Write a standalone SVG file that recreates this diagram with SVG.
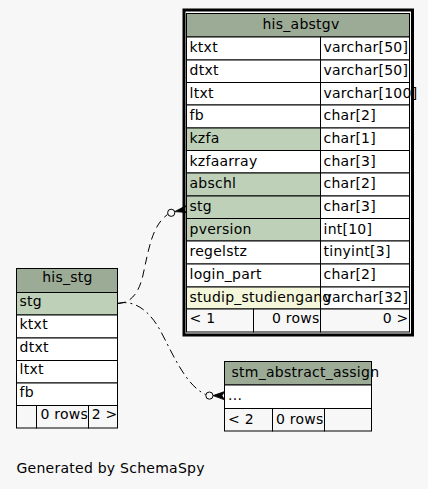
<svg xmlns="http://www.w3.org/2000/svg" width="428" height="489" viewBox="0 0 428 489">
<style>
.t{font-family:"DejaVu Sans","Bitstream Vera Sans",Verdana,sans-serif;font-size:14px;letter-spacing:0.25px;fill:#000}
.c{stroke:#000;stroke-width:1}
.w{fill:#ffffff}
.h{fill:#9bab96}
.k{fill:#bed1b8}
.y{fill:#f4f7da}
.f{fill:#f7f7f7}
.e{fill:none;stroke:#000;stroke-width:1}
.ar{fill:#000;stroke:#000;stroke-width:0.8}
.od{fill:#f7f7f7;stroke:#000;stroke-width:1}
</style>
<rect x="0" y="0" width="428" height="489" fill="#f7f7f7"/>

<g id="connectors">
<path class="e" stroke-dasharray="8,5" d="M117.5,303.5 C132,303 139,292 143,275 C149,248 152,226 167.6,214.4"/>
<circle class="od" cx="171.2" cy="212.8" r="3.6"/>
<polygon class="ar" points="174.8,211.6 185.8,205.8 183.4,209.8 186.5,212.6"/>
<path class="e" stroke-dasharray="9,4,2,4" d="M117.5,303.5 C135,299 150,312 160,330 C172,352 185,385 205.7,394.6"/>
<circle class="od" cx="209.4" cy="395.6" r="3.6"/>
<polygon class="ar" points="213,395.6 224.5,391.6 222,395.6 224.5,399.8"/>
</g>

<g id="his_abstgv">
<rect x="186" y="12" width="224" height="321" fill="#ffffff"/>
<rect class="c h" x="186.5" y="13.5" width="223" height="23.5"/>
<rect class="c w" x="186.5" y="37" width="134" height="23"/><rect class="c w" x="320.5" y="37" width="89" height="23"/>
<rect class="c w" x="186.5" y="60" width="134" height="22.5"/><rect class="c w" x="320.5" y="60" width="89" height="22.5"/>
<rect class="c w" x="186.5" y="82.5" width="134" height="22.5"/><rect class="c w" x="320.5" y="82.5" width="89" height="22.5"/>
<rect class="c w" x="186.5" y="105" width="134" height="23"/><rect class="c w" x="320.5" y="105" width="89" height="23"/>
<rect class="c k" x="186.5" y="128" width="134" height="22.5"/><rect class="c w" x="320.5" y="128" width="89" height="22.5"/>
<rect class="c w" x="186.5" y="150.5" width="134" height="22.5"/><rect class="c w" x="320.5" y="150.5" width="89" height="22.5"/>
<rect class="c k" x="186.5" y="173" width="134" height="23"/><rect class="c w" x="320.5" y="173" width="89" height="23"/>
<rect class="c k" x="186.5" y="196" width="134" height="22.5"/><rect class="c w" x="320.5" y="196" width="89" height="22.5"/>
<rect class="c k" x="186.5" y="218.5" width="134" height="22.5"/><rect class="c w" x="320.5" y="218.5" width="89" height="22.5"/>
<rect class="c w" x="186.5" y="241" width="134" height="23"/><rect class="c w" x="320.5" y="241" width="89" height="23"/>
<rect class="c w" x="186.5" y="264" width="134" height="23"/><rect class="c w" x="320.5" y="264" width="89" height="23"/>
<rect class="c y" x="186.5" y="287" width="134" height="22"/><rect class="c w" x="320.5" y="287" width="89" height="22"/>
<rect class="c f" x="186.5" y="309" width="67" height="23"/><rect class="c f" x="253.5" y="309" width="67" height="23"/><rect class="c f" x="320.5" y="309" width="89" height="23"/>
<text class="t" x="301" y="28.5" text-anchor="middle">his_abstgv</text>
<text class="t" x="189.5" y="52">ktxt</text><text class="t" x="323.5" y="52">varchar[50]</text>
<text class="t" x="189.5" y="75">dtxt</text><text class="t" x="323.5" y="75">varchar[50]</text>
<text class="t" x="189.5" y="97.5">ltxt</text><text class="t" x="323.5" y="97.5">varchar[100]</text>
<text class="t" x="189.5" y="120">fb</text><text class="t" x="323.5" y="120">char[2]</text>
<text class="t" x="189.5" y="143">kzfa</text><text class="t" x="323.5" y="143">char[1]</text>
<text class="t" x="189.5" y="165.5">kzfaarray</text><text class="t" x="323.5" y="165.5">char[3]</text>
<text class="t" x="189.5" y="188">abschl</text><text class="t" x="323.5" y="188">char[2]</text>
<text class="t" x="189.5" y="211">stg</text><text class="t" x="323.5" y="211">char[3]</text>
<text class="t" x="189.5" y="233.5">pversion</text><text class="t" x="323.5" y="233.5">int[10]</text>
<text class="t" x="189.5" y="256">regelstz</text><text class="t" x="323.5" y="256">tinyint[3]</text>
<text class="t" x="189.5" y="279">login_part</text><text class="t" x="323.5" y="279">char[2]</text>
<text class="t" x="189.5" y="302">studip_studiengang</text><text class="t" x="323.5" y="302">varchar[32]</text>
<text class="t" x="189.5" y="323">&lt; 1</text>
<text class="t" x="319.5" y="323" text-anchor="end">0 rows</text>
<text class="t" x="408.5" y="323" text-anchor="end">0 &gt;</text>
<rect x="184" y="10" width="228.5" height="325" fill="none" stroke="#000" stroke-width="3"/>
</g>

<g id="his_stg">
<rect class="c h" x="16.5" y="268.5" width="101" height="24"/>
<rect class="c k" x="16.5" y="292.5" width="101" height="22.5"/>
<rect class="c w" x="16.5" y="315" width="101" height="23"/>
<rect class="c w" x="16.5" y="338" width="101" height="22.5"/>
<rect class="c w" x="16.5" y="360.5" width="101" height="22.5"/>
<rect class="c w" x="16.5" y="383" width="101" height="22.5"/>
<rect class="c f" x="16.5" y="405.5" width="20" height="22.5"/>
<rect class="c f" x="36.5" y="405.5" width="52" height="22.5"/>
<rect class="c f" x="88.5" y="405.5" width="29" height="22.5"/>
<text class="t" x="67.5" y="282" text-anchor="middle">his_stg</text>
<text class="t" x="19.5" y="306">stg</text>
<text class="t" x="19.5" y="328.5">ktxt</text>
<text class="t" x="19.5" y="351.5">dtxt</text>
<text class="t" x="19.5" y="374">ltxt</text>
<text class="t" x="19.5" y="396.5">fb</text>
<text class="t" x="88" y="419" text-anchor="end">0 rows</text>
<text class="t" x="117.5" y="419" text-anchor="end">2 &gt;</text>
</g>

<g id="stm_abstract_assign">
<rect class="c h" x="224.5" y="361.5" width="147" height="23.5"/>
<rect class="c w" x="224.5" y="385" width="147" height="23.5"/>
<rect class="c f" x="224.5" y="408.5" width="48" height="22.5"/>
<rect class="c f" x="272.5" y="408.5" width="52" height="22.5"/>
<rect class="c f" x="324.5" y="408.5" width="47" height="22.5"/>
<text class="t" x="231.5" y="377">stm_abstract_assign</text>
<text class="t" x="228" y="399.5">...</text>
<text class="t" x="228" y="423.5">&lt; 2</text>
<text class="t" x="323.5" y="423.5" text-anchor="end">0 rows</text>
</g>

<text class="t" x="16.5" y="472.5">Generated by SchemaSpy</text>
</svg>
